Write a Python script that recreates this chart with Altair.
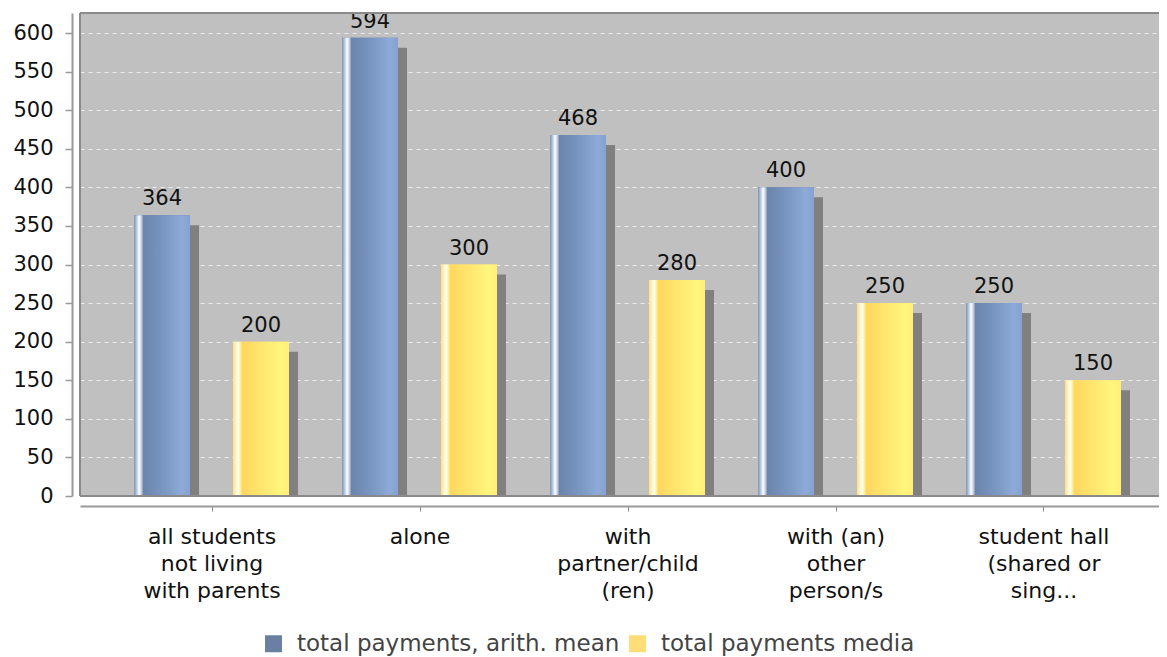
import altair as alt
import pandas as pd

categories = [
    "all students|not living|with parents",
    "alone",
    "with|partner/child|(ren)",
    "with (an)|other|person/s",
    "student hall|(shared or|sing...",
]
series_names = ["total payments, arith. mean", "total payments media"]
mean_values = [364, 594, 468, 400, 250]
median_values = [200, 300, 280, 250, 150]
y_ticks = list(range(0, 601, 50))

rows = []
for c, m, md in zip(categories, mean_values, median_values):
    rows.append({"category": c, "series": series_names[0], "value": m})
    rows.append({"category": c, "series": series_names[1], "value": md})
df = pd.DataFrame(rows)

W, H = 1079, 483
FONT = "DejaVu Sans"

x_enc = alt.X(
    "category:N",
    sort=categories,
    scale=alt.Scale(paddingInner=0, paddingOuter=0.0938, align=0.718),
    axis=alt.Axis(
        title=None,
        labelAngle=0,
        labelExpr="split(datum.label, '|')",
        labelFontSize=22,
        labelFont=FONT,
        labelColor="#111111",
        labelLineHeight=27,
        labelPadding=15,
        labelLimit=400,
        offset=10,
        domainColor="#999999",
        domainWidth=2,
        tickColor="#888888",
        tickSize=5,
        tickWidth=1,
        grid=False,
    ),
)
y_enc = alt.Y(
    "value:Q",
    scale=alt.Scale(domain=[0, 626], nice=False, zero=True),
    axis=alt.Axis(
        title=None,
        values=y_ticks,
        labelFontSize=21,
        labelFont=FONT,
        labelColor="#111111",
        labelPadding=12,
        offset=8,
        domainColor="#999999",
        domainWidth=2,
        tickColor="#999999",
        tickSize=7,
        tickWidth=1.5,
        grid=True,
        gridColor="#ececec",
        gridDash=[4, 4],
        gridWidth=1,
    ),
)

blue_grad = alt.Gradient(
    gradient="linear", x1=0, x2=1, y1=0, y2=0,
    stops=[
        alt.GradientStop(offset=0.0, color="#7d93b8"),
        alt.GradientStop(offset=0.04, color="#aebfdb"),
        alt.GradientStop(offset=0.09, color="#ffffff"),
        alt.GradientStop(offset=0.13, color="#c5d2e6"),
        alt.GradientStop(offset=0.17, color="#6b84aa"),
        alt.GradientStop(offset=0.55, color="#7b97c3"),
        alt.GradientStop(offset=0.85, color="#8eaad8"),
        alt.GradientStop(offset=1.0, color="#86a1cd"),
    ],
)
yellow_grad = alt.Gradient(
    gradient="linear", x1=0, x2=1, y1=0, y2=0,
    stops=[
        alt.GradientStop(offset=0.0, color="#ffe27a"),
        alt.GradientStop(offset=0.04, color="#fff0b0"),
        alt.GradientStop(offset=0.09, color="#ffffff"),
        alt.GradientStop(offset=0.13, color="#fff0a0"),
        alt.GradientStop(offset=0.17, color="#ffd75e"),
        alt.GradientStop(offset=0.55, color="#ffe870"),
        alt.GradientStop(offset=0.85, color="#fff57e"),
        alt.GradientStop(offset=1.0, color="#fff07a"),
    ],
)

offsets = {series_names[0]: -50, series_names[1]: 49}
grads = {series_names[0]: blue_grad, series_names[1]: yellow_grad}

base = alt.Chart(df)
layers = []
# shadows
for s in series_names:
    layers.append(
        base.transform_filter(alt.datum.series == s)
        .mark_bar(color="#808080", width=56, xOffset=offsets[s] + 9, yOffset=10, clip=True)
        .encode(x=x_enc, y=y_enc)
    )
# flat bars with legend
for s in series_names:
    layers.append(
        base.transform_filter(alt.datum.series == s)
        .mark_bar(width=56, xOffset=offsets[s])
        .encode(
            x=x_enc,
            y=y_enc,
            color=alt.Color(
                "series:N",
                scale=alt.Scale(domain=series_names, range=["#6b7fa3", "#ffdd77"]),
                legend=alt.Legend(
                    title=None,
                    orient="none",
                    legendX=182,
                    legendY=619,
                    direction="horizontal",
                    symbolType="square",
                    symbolSize=289,
                    symbolStrokeWidth=0,
                    labelFontSize=23,
                    labelFont=FONT,
                    labelColor="#444444",
                    labelOffset=12,
                    columnPadding=6,
                    padding=0,
                    labelLimit=500,
                ),
            ),
        )
    )
# gradient bars
for s in series_names:
    layers.append(
        base.transform_filter(alt.datum.series == s)
        .mark_bar(width=56, xOffset=offsets[s], fill=grads[s])
        .encode(x=x_enc, y=y_enc)
    )
# value labels
for s in series_names:
    layers.append(
        base.transform_filter(alt.datum.series == s)
        .mark_text(
            xOffset=offsets[s], dy=-10, baseline="alphabetic", align="center",
            fontSize=21, font=FONT, color="#111111", clip=True,
        )
        .encode(x=x_enc, y=y_enc, text=alt.Text("value:Q"))
    )

border_df = pd.DataFrame({"k": [0]})
top_border = alt.Chart(border_df).mark_rule(color="#8a8a8a", strokeWidth=2).encode(
    x=alt.value(0), x2=alt.value(W), y=alt.value(0)
)
left_border = alt.Chart(border_df).mark_rule(color="#8a8a8a", strokeWidth=2).encode(
    x=alt.value(0), y=alt.value(0), y2=alt.value(H)
)
bottom_border = alt.Chart(border_df).mark_rule(color="#8a8a8a", strokeWidth=2).encode(
    x=alt.value(0), x2=alt.value(W), y=alt.value(H)
)

chart = (
    alt.layer(*layers, top_border, left_border, bottom_border)
    .properties(
        width=W,
        height=H,
        autosize=alt.AutoSizeParams(type="none"),
        padding={"left": 72, "top": 5, "right": 0, "bottom": 161},
        background="white",
    )
    .configure_view(fill="#c0c0c0", stroke=None)
)

chart.save("out.html", embed_options={"renderer": "svg", "actions": False})
